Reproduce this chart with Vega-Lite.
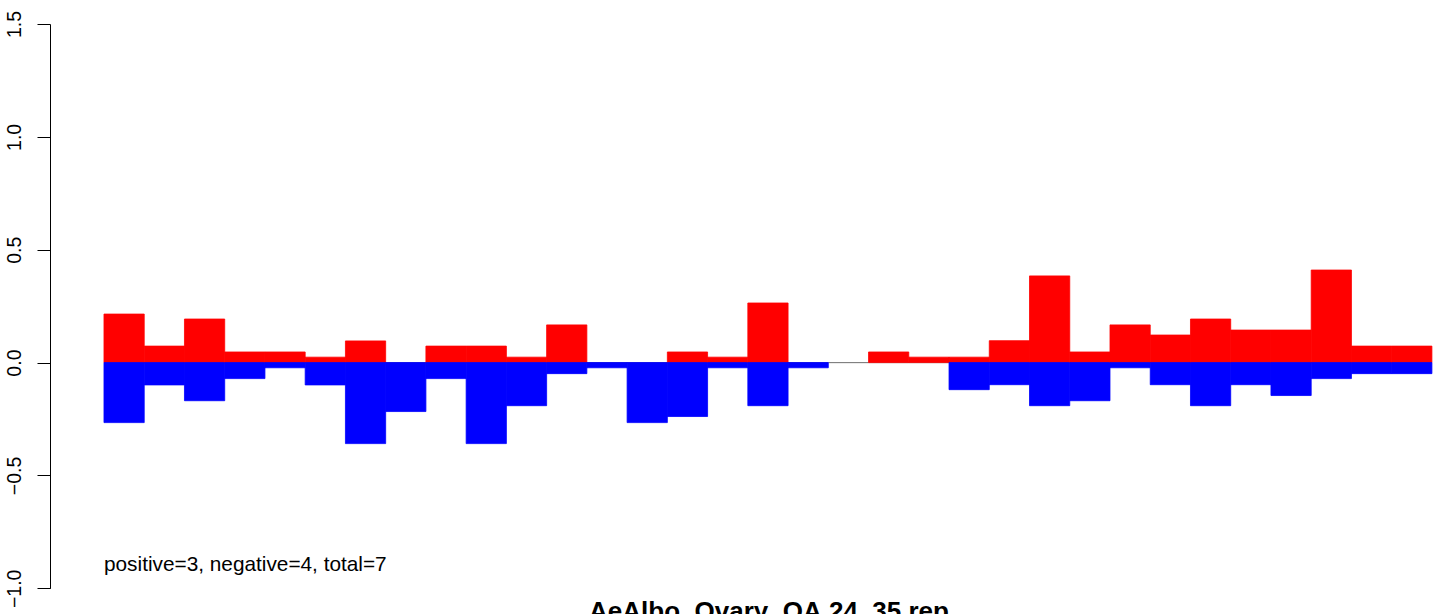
{
  "$schema": "https://vega.github.io/schema/vega-lite/v6.json",
  "autosize": {"type": "none"},
  "padding": {"left": 50, "top": 24, "right": 0, "bottom": 25.7},
  "width": 1391,
  "height": 564.3,
  "background": "white",
  "config": {
    "view": {"stroke": null},
    "font": "Liberation Sans",
    "axisY": {"domain": true, "domainColor": "black", "domainWidth": 1, "ticks": true, "tickColor": "black", "tickSize": 13, "tickWidth": 1, "labelAngle": -90, "labelAlign": "center", "labelBaseline": "alphabetic", "labelPadding": 17, "labelFont": "Liberation Sans", "labelFontSize": 19.5, "labelColor": "black", "labelFlush": false, "labelOverlap": false, "labelBound": false, "grid": false}
  },
  "title": {
    "text": "AeAlbo_Ovary_OA.24_35.rep",
    "orient": "bottom",
    "anchor": "middle",
    "frame": "group",
    "font": "Liberation Sans",
    "fontSize": 26,
    "fontWeight": "bold",
    "color": "black",
    "baseline": "alphabetic",
    "offset": 12,
    "dx": 23.5
  },
  "data": {
    "values": [
      {"bin": 1, "positive": 0.215, "negative": -0.266},
      {"bin": 2, "positive": 0.073, "negative": -0.099},
      {"bin": 3, "positive": 0.193, "negative": -0.169},
      {"bin": 4, "positive": 0.047, "negative": -0.071},
      {"bin": 5, "positive": 0.047, "negative": -0.023},
      {"bin": 6, "positive": 0.024, "negative": -0.099},
      {"bin": 7, "positive": 0.096, "negative": -0.359},
      {"bin": 8, "positive": 0, "negative": -0.217},
      {"bin": 9, "positive": 0.073, "negative": -0.071},
      {"bin": 10, "positive": 0.073, "negative": -0.359},
      {"bin": 11, "positive": 0.024, "negative": -0.191},
      {"bin": 12, "positive": 0.167, "negative": -0.049},
      {"bin": 13, "positive": 0, "negative": -0.023},
      {"bin": 14, "positive": 0, "negative": -0.266},
      {"bin": 15, "positive": 0.047, "negative": -0.239},
      {"bin": 16, "positive": 0.024, "negative": -0.023},
      {"bin": 17, "positive": 0.264, "negative": -0.191},
      {"bin": 18, "positive": 0, "negative": -0.023},
      {"bin": 19, "positive": 0, "negative": 0},
      {"bin": 20, "positive": 0.047, "negative": 0},
      {"bin": 21, "positive": 0.024, "negative": 0},
      {"bin": 22, "positive": 0.024, "negative": -0.12},
      {"bin": 23, "positive": 0.097, "negative": -0.098},
      {"bin": 24, "positive": 0.384, "negative": -0.191},
      {"bin": 25, "positive": 0.047, "negative": -0.169},
      {"bin": 26, "positive": 0.167, "negative": -0.023},
      {"bin": 27, "positive": 0.122, "negative": -0.098},
      {"bin": 28, "positive": 0.193, "negative": -0.191},
      {"bin": 29, "positive": 0.144, "negative": -0.098},
      {"bin": 30, "positive": 0.144, "negative": -0.146},
      {"bin": 31, "positive": 0.41, "negative": -0.071},
      {"bin": 32, "positive": 0.073, "negative": -0.049},
      {"bin": 33, "positive": 0.073, "negative": -0.049}
    ]
  },
  "layer": [
    {
      "mark": {"type": "bar", "fill": "transparent", "stroke": "#808080", "strokeWidth": 1},
      "encoding": {
        "x": {"field": "bin", "type": "ordinal", "scale": {"paddingInner": 0, "paddingOuter": 0.7836, "align": 0.856}, "axis": null},
        "y": {"datum": 0, "type": "quantitative", "scale": {"domain": [-1, 1.5], "nice": false, "zero": false},
          "axis": {"title": null, "values": [-1, -0.5, 0, 0.5, 1, 1.5], "format": ".1f"}},
        "y2": {"datum": 0}
      }
    },
    {
      "transform": [
        {"fold": ["positive", "negative"], "as": ["sign", "value"]},
        {"filter": "datum.value != 0"}
      ],
      "mark": {"type": "bar", "strokeWidth": 0.8},
      "encoding": {
        "x": {"field": "bin", "type": "ordinal", "axis": null},
        "y": {"field": "value", "type": "quantitative",
          "axis": {"title": null, "values": [-1, -0.5, 0, 0.5, 1, 1.5], "format": ".1f"}},
        "y2": {"datum": 0},
        "color": {"field": "sign", "type": "nominal", "scale": {"domain": ["positive", "negative"], "range": ["#ff0000", "#0000ff"]}, "legend": null},
        "stroke": {"field": "sign", "type": "nominal", "scale": {"domain": ["positive", "negative"], "range": ["#ff0000", "#0000ff"]}, "legend": null}
      }
    },
    {
      "data": {"values": [{"bin": 1, "label": "positive=3, negative=4, total=7"}]},
      "mark": {"type": "text", "align": "left", "baseline": "alphabetic", "font": "Liberation Sans", "fontSize": 20.8, "color": "black"},
      "encoding": {
        "x": {"field": "bin", "type": "ordinal", "bandPosition": 0, "axis": null},
        "y": {"datum": -0.923, "type": "quantitative"},
        "text": {"field": "label"}
      }
    }
  ]
}
